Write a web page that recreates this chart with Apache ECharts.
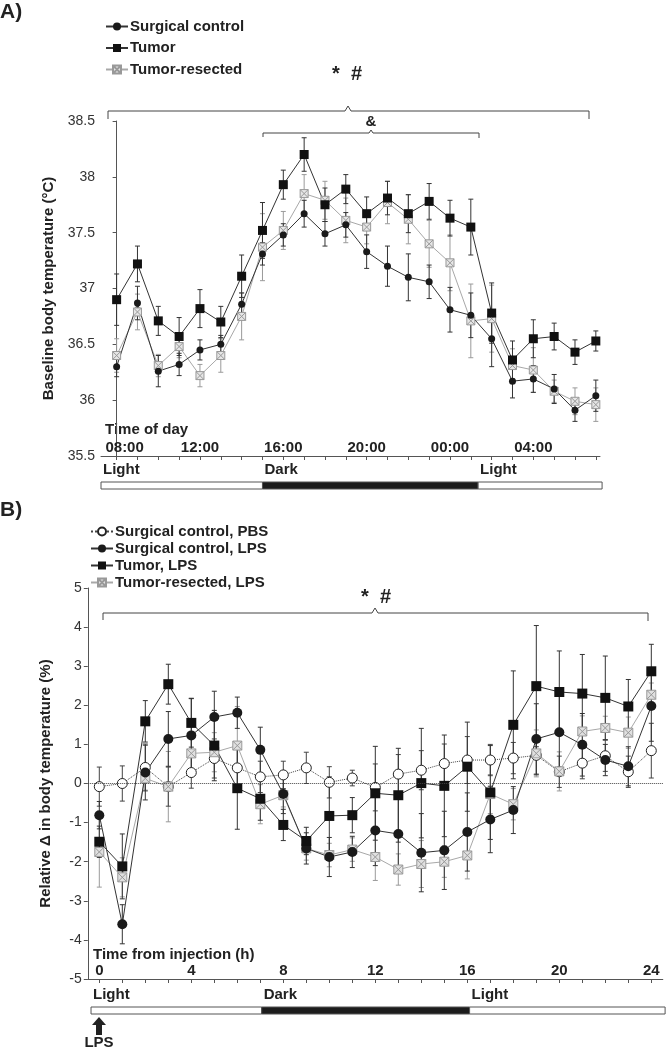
<!DOCTYPE html>
<html><head><meta charset="utf-8">
<script src="https://cdn.jsdelivr.net/npm/echarts@6/dist/echarts.min.js"></script>
<style>html,body{margin:0;padding:0;background:#fff}#c{width:667px;height:1051px}</style>
</head><body><div id="c"></div>
<script>
// ---------- Panel A: baseline body temperature (hours after 08:00) ----------
const hoursA = [0,1,2,3,4,5,6,7,8,9,10,11,12,13,14,15,16,17,18,19,20,21,22,23];
const tickHoursA = [0,4,8,12,16,20];
const tickLabelsA = ['08:00','12:00','16:00','20:00','00:00','04:00'];
const surgA    = [36.30,36.87,36.26,36.32,36.45,36.50,36.86,37.31,37.48,37.67,37.49,37.57,37.33,37.20,37.10,37.06,36.81,36.76,36.55,36.17,36.19,36.10,35.91,36.04];
const surgAErr = [0.09,0.15,0.14,0.10,0.09,0.08,0.10,0.10,0.10,0.12,0.11,0.11,0.15,0.18,0.21,0.15,0.20,0.20,0.25,0.15,0.12,0.13,0.10,0.14];
const tumorA    = [36.90,37.22,36.71,36.57,36.82,36.70,37.11,37.52,37.93,38.20,37.75,37.89,37.67,37.81,37.67,37.78,37.63,37.55,36.78,36.36,36.55,36.57,36.43,36.53];
const tumorAErr = [0.23,0.16,0.13,0.17,0.17,0.14,0.19,0.25,0.13,0.15,0.15,0.13,0.15,0.15,0.17,0.16,0.16,0.25,0.27,0.17,0.17,0.12,0.11,0.09];
const resA    = [36.40,36.79,36.31,36.48,36.22,36.40,36.75,37.37,37.52,37.85,37.79,37.61,37.55,37.77,37.62,37.40,37.23,36.71,36.73,36.31,36.27,36.08,35.99,35.96];
const resAErr = [0.15,0.16,0.10,0.10,0.10,0.15,0.21,0.30,0.17,0.17,0.17,0.20,0.15,0.19,0.22,0.21,0.25,0.33,0.30,0.15,0.20,0.10,0.12,0.15];
const phasesA = [[-0.75,7.0,'Light'],[7.0,17.35,'Dark'],[17.35,23.3,'Light']];

// ---------- Panel B: relative change after injection (h) ----------
const hoursB = [0,1,2,3,4,5,6,7,8,9,10,11,12,13,14,15,16,17,18,19,20,21,22,23,24];
const tickHoursB = [0,4,8,12,16,20,24];
const pbsB    = [-0.08,0.00,0.41,-0.08,0.28,0.64,0.40,0.17,0.22,0.40,0.03,0.14,-0.10,0.24,0.34,0.51,0.60,0.60,0.65,0.72,0.30,0.52,0.71,0.30,0.84];
const pbsBErr = [0.50,0.45,0.60,0.50,0.40,0.50,0.50,0.40,0.35,0.40,0.40,0.20,0.60,0.50,0.50,0.50,0.60,0.40,0.40,0.50,0.40,0.40,0.40,0.40,0.70];
const surgB    = [-0.81,-3.60,0.28,1.14,1.23,1.70,1.81,0.86,-0.27,-1.66,-1.88,-1.75,-1.20,-1.29,-1.77,-1.71,-1.24,-0.92,-0.68,1.14,1.31,0.99,0.60,0.44,1.98];
const surgBErr = [0.35,0.50,0.70,0.70,0.95,0.66,0.40,0.58,0.50,0.40,0.50,0.40,0.90,1.00,1.00,1.00,1.00,0.85,0.60,0.90,1.00,0.80,0.40,0.50,0.90];
const tumorB    = [-1.49,-2.12,1.59,2.54,1.55,0.97,-0.12,-0.39,-1.06,-1.47,-0.83,-0.81,-0.25,-0.30,0.01,-0.06,0.43,-0.23,1.50,2.49,2.34,2.30,2.19,1.97,2.87];
const tumorBErr = [0.40,0.83,0.53,0.51,0.62,0.90,1.05,0.55,0.40,0.35,1.00,0.45,1.20,1.20,1.40,1.30,1.14,1.20,1.38,1.55,1.05,1.00,1.07,0.69,0.69];
const resB    = [-1.75,-2.40,0.13,-0.08,0.77,0.80,0.97,-0.53,-0.30,-1.66,-1.83,-1.69,-1.88,-2.20,-2.06,-2.00,-1.84,-0.27,-0.53,0.77,0.31,1.33,1.42,1.30,2.27];
const resBErr = [0.90,0.50,0.30,0.90,0.50,0.50,1.00,0.50,0.30,0.30,0.30,0.30,0.60,0.40,0.60,0.40,0.60,0.50,0.40,0.60,0.50,0.40,0.30,0.40,0.30];
const phasesB = [[-0.36,7.06,'Light'],[7.06,16.1,'Dark'],[16.1,24.6,'Light']];

const FONT = 'Liberation Sans, Arial, sans-serif';
const TXT = '#222';
const AX = '#555';
const XSYM = 'path://M0,0L10,0L10,10L0,10Z M0,0L10,10 M10,0L0,10';

function pts(xs, ys){ return xs.map((x,i)=>[x, ys[i]]); }

function errSeries(xs, ys, errs, color, gi, cap){
  return {
    type:'custom', xAxisIndex:gi, yAxisIndex:gi, silent:true, z:1,
    data: xs.map((x,i)=>[x, ys[i]-errs[i], ys[i]+errs[i]]),
    renderItem(params, api){
      const x = api.value(0);
      const lo = api.coord([x, api.value(1)]);
      const hi = api.coord([x, api.value(2)]);
      const st = {stroke:color, lineWidth:1};
      return {type:'group', children:[
        {type:'line', shape:{x1:lo[0],y1:lo[1],x2:hi[0],y2:hi[1]}, style:st},
        {type:'line', shape:{x1:lo[0]-cap,y1:lo[1],x2:lo[0]+cap,y2:lo[1]}, style:st},
        {type:'line', shape:{x1:hi[0]-cap,y1:hi[1],x2:hi[0]+cap,y2:hi[1]}, style:st}
      ]};
    }
  };
}

function phaseSeries(phases, gi){
  return {
    type:'custom', xAxisIndex:gi, yAxisIndex:gi, silent:true, clip:false,
    data: phases.map(p=>[p[0], p[1], p[2]==='Dark'?1:0]),
    renderItem(params, api){
      const a = api.coord([api.value(0), 1]);
      const b = api.coord([api.value(1), 0]);
      const dark = api.value(2) === 1;
      return {type:'group', children:[
        {type:'rect', shape:{x:a[0], y:a[1], width:b[0]-a[0], height:b[1]-a[1]},
         style:{fill: dark ? '#1c1c1c' : '#fff', stroke:'#555', lineWidth:1}},
        {type:'text', x:a[0]+2, y:a[1]-20,
         style:{text: phases[params.dataIndex][2], font:'bold 15px '+FONT, fill:TXT}}
      ]};
    }
  };
}

function lineSeries(name, xs, ys, gi, opts){
  return Object.assign({
    name, type:'line', xAxisIndex:gi, yAxisIndex:gi, data: pts(xs, ys), z:3,
    showAllSymbol:true, animation:false
  }, opts);
}

const option = {
  animation:false,
  backgroundColor:'#fff',
  textStyle:{fontFamily:FONT},
  grid:[
    {left:101, top:121, width:499, height:335},
    {left:101, top:482, width:499, height:7},
    {left:87.8, top:588, width:575, height:391},
    {left:87.8, top:1007, width:575, height:7}
  ],
  xAxis:[
    {gridIndex:0, type:'value', min:-0.75, max:23.2,
     axisLine:{show:true, lineStyle:{color:AX}},
     axisTick:{show:true, customValues:hoursA, length:4, lineStyle:{color:AX}},
     axisLabel:{inside:true, margin:1, customValues:tickHoursA, fontSize:15, fontWeight:'bold', color:TXT,
       formatter:(v)=>{const i=tickHoursA.indexOf(v); return i===0?'{f|'+tickLabelsA[0]+'}':tickLabelsA[i];},
       rich:{f:{fontSize:15, fontWeight:'bold', color:TXT, padding:[0,0,0,16]}}},
     splitLine:{show:false}},
    {gridIndex:1, type:'value', min:-0.75, max:23.2, show:false},
    {gridIndex:2, type:'value', min:-0.5, max:24.5,
     axisLine:{show:true, onZero:false, lineStyle:{color:AX}},
     axisTick:{show:true, customValues:hoursB, length:4, lineStyle:{color:AX}},
     axisLabel:{inside:true, margin:1, customValues:tickHoursB, fontSize:15, fontWeight:'bold', color:TXT},
     splitLine:{show:false}},
    {gridIndex:3, type:'value', min:-0.5, max:24.5, show:false}
  ],
  yAxis:[
    {gridIndex:0, type:'value', min:35.5, max:38.5, interval:0.5,
     name:'Baseline body temperature (°C)', nameLocation:'middle', nameGap:40,
     nameTextStyle:{fontSize:15, fontWeight:'bold', color:TXT},
     axisLine:{show:true, lineStyle:{color:AX}},
     axisTick:{show:true, length:4, lineStyle:{color:AX}},
     axisLabel:{fontSize:14, color:'#333', margin:6},
     splitLine:{show:false}},
    {gridIndex:1, type:'value', min:0, max:1, show:false},
    {gridIndex:2, type:'value', min:-5, max:5, interval:1,
     name:'Relative Δ in body temperature (%)', nameLocation:'middle', nameGap:34,
     nameTextStyle:{fontSize:15, fontWeight:'bold', color:TXT},
     axisLine:{show:true, onZero:false, lineStyle:{color:AX}},
     axisTick:{show:true, length:4, lineStyle:{color:AX}},
     axisLabel:{fontSize:14, color:'#333', margin:6},
     splitLine:{show:false}},
    {gridIndex:3, type:'value', min:0, max:1, show:false}
  ],
  legend:[
    {left:105, top:19, orient:'vertical', itemGap:6.5, itemWidth:22, itemHeight:10, padding:0,
     data:['Surgical control','Tumor','Tumor-resected'],
     textStyle:{fontSize:15, fontWeight:'bold', color:TXT, lineHeight:15, padding:[0,0,0,-3]}},
    {left:90, top:524, orient:'vertical', itemGap:2, itemWidth:22, itemHeight:10, padding:0,
     data:['Surgical control, PBS','Surgical control, LPS','Tumor, LPS','Tumor-resected, LPS'],
     textStyle:{fontSize:15, fontWeight:'bold', color:TXT, lineHeight:15, padding:[0,0,0,-3]}}
  ],
  graphic:[
    {type:'text', left:0, top:2, style:{text:'A)', font:'bold 21px '+FONT, fill:TXT}},
    {type:'text', left:0, top:500, style:{text:'B)', font:'bold 21px '+FONT, fill:TXT}},
    // Panel A annotations
    {type:'text', x:347, y:74, style:{text:'*  #', font:'bold 20px '+FONT, fill:TXT, align:'center', verticalAlign:'middle'}},
    {type:'polyline', shape:{points:[[108,119],[108,111],[345,111],[348,106],[351,111],[589,111],[589,119]]}, style:{stroke:'#444', lineWidth:1, fill:null}},
    {type:'text', x:371, y:122, style:{text:'&', font:'bold 15px '+FONT, fill:TXT, align:'center', verticalAlign:'middle'}},
    {type:'polyline', shape:{points:[[263,137],[263,133],[369,133],[371,130],[373,133],[479,133],[479,138]]}, style:{stroke:'#444', lineWidth:1, fill:null}},
    {type:'text', x:105, y:430, style:{text:'Time of day', font:'bold 15px '+FONT, fill:TXT, verticalAlign:'middle'}},
    // Panel B annotations
    {type:'text', x:376, y:597, style:{text:'*  #', font:'bold 20px '+FONT, fill:TXT, align:'center', verticalAlign:'middle'}},
    {type:'polyline', shape:{points:[[103,620],[103,613],[372,613],[375,608],[378,613],[648,613],[648,621]]}, style:{stroke:'#444', lineWidth:1, fill:null}},
    {type:'text', x:93, y:955, style:{text:'Time from injection (h)', font:'bold 15px '+FONT, fill:TXT, verticalAlign:'middle'}},
    {type:'polygon', shape:{points:[[99,1017],[106,1025],[102,1025],[102,1035],[96,1035],[96,1025],[92,1025]]}, style:{fill:'#222'}},
    {type:'text', x:99, y:1043, style:{text:'LPS', font:'bold 15px '+FONT, fill:TXT, align:'center', verticalAlign:'middle'}}
  ],
  series:[
    // Panel A
    errSeries(hoursA, resA, resAErr, '#9a9a9a', 0, 2.5),
    errSeries(hoursA, surgA, surgAErr, '#333', 0, 2.5),
    errSeries(hoursA, tumorA, tumorAErr, '#333', 0, 2.5),
    lineSeries('Tumor-resected', hoursA, resA, 0, {symbol:XSYM, symbolSize:8,
      lineStyle:{color:'#a8a8a8', width:1}, itemStyle:{color:'#e6e6e6', borderColor:'#999', borderWidth:1}}),
    lineSeries('Surgical control', hoursA, surgA, 0, {symbol:'circle', symbolSize:7,
      lineStyle:{color:'#333', width:1}, itemStyle:{color:'#1a1a1a', borderColor:'#1a1a1a', borderWidth:0}}),
    lineSeries('Tumor', hoursA, tumorA, 0, {symbol:'rect', symbolSize:9,
      lineStyle:{color:'#333', width:1}, itemStyle:{color:'#111', borderColor:'#111', borderWidth:0}}),
    phaseSeries(phasesA, 1),
    // Panel B
    errSeries(hoursB, resB, resBErr, '#9a9a9a', 2, 2.5),
    errSeries(hoursB, pbsB, pbsBErr, '#444', 2, 2.5),
    errSeries(hoursB, surgB, surgBErr, '#333', 2, 2.5),
    errSeries(hoursB, tumorB, tumorBErr, '#333', 2, 2.5),
    lineSeries('Surgical control, PBS', hoursB, pbsB, 2, {symbol:'circle', symbolSize:10,
      lineStyle:{color:'#444', width:1, type:'dotted'}, itemStyle:{color:'#fff', borderColor:'#222', borderWidth:1},
      markLine:{silent:true, symbol:'none', label:{show:false}, data:[{yAxis:0}],
        lineStyle:{color:'#444', width:1, type:'dotted'}}}),
    lineSeries('Tumor-resected, LPS', hoursB, resB, 2, {symbol:XSYM, symbolSize:9,
      lineStyle:{color:'#a8a8a8', width:1}, itemStyle:{color:'#e0e0e0', borderColor:'#999', borderWidth:1}}),
    lineSeries('Surgical control, LPS', hoursB, surgB, 2, {symbol:'circle', symbolSize:10,
      lineStyle:{color:'#333', width:1}, itemStyle:{color:'#1a1a1a', borderWidth:0}}),
    lineSeries('Tumor, LPS', hoursB, tumorB, 2, {symbol:'rect', symbolSize:10,
      lineStyle:{color:'#333', width:1}, itemStyle:{color:'#111', borderWidth:0}}),
    phaseSeries(phasesB, 3)
  ]
};

const chart = echarts.init(document.getElementById('c'), null, {renderer:'canvas', width:667, height:1051});
chart.setOption(option);
</script>
</body></html>
